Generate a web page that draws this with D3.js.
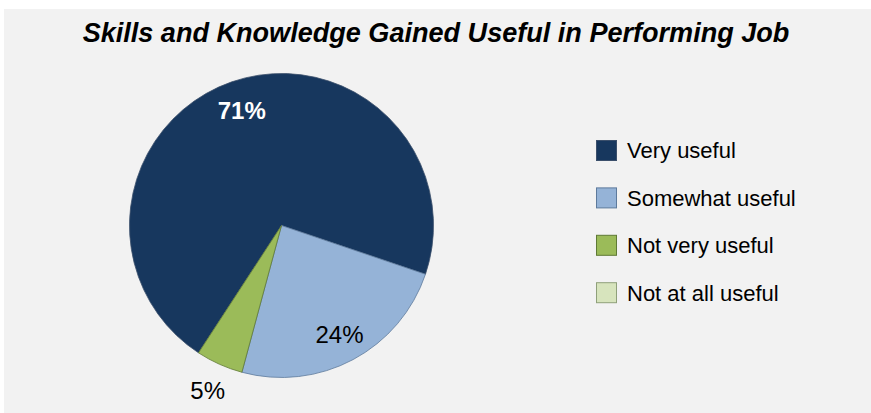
<!DOCTYPE html>
<html>
<head>
<meta charset="utf-8">
<script src="https://cdn.jsdelivr.net/npm/d3@7"></script>
<style>
  body { margin: 0; background: #ffffff; }
  svg { display: block; }
</style>
</head>
<body>
<svg id="chart" width="871" height="413"></svg>
<script>
// Dados do gráfico
const categories = ["Very useful", "Somewhat useful", "Not very useful", "Not at all useful"];
const values = [71, 24, 5, 0];
const valueLabels = ["71%", "24%", "5%", ""];
const colors = ["#17375e", "#95b3d7", "#9bbb59", "#d7e4bd"];
const strokes = ["#3b4f6b", "#5d7a9c", "#5f7a35", "#8fa07a"];
const titleText = "Skills and Knowledge Gained Useful in Performing Job";

const svg = d3.select("#chart");
const width = +svg.attr("width");
const height = +svg.attr("height");
const font = "'Liberation Sans', Arial, sans-serif";

// Fundo cinza
svg.append("rect")
  .attr("x", 4).attr("y", 9)
  .attr("width", width - 4).attr("height", height - 9)
  .attr("fill", "#f2f2f2");

// Título
const title = svg.append("text")
  .attr("x", 436)
  .attr("y", 42)
  .attr("text-anchor", "middle")
  .attr("font-family", font)
  .attr("font-weight", "bold")
  .attr("font-style", "italic")
  .attr("font-size", "26px")
  .text(titleText);
// ajusta o tamanho para a largura do original
const tw = title.node().getComputedTextLength();
title.attr("font-size", (26 * 707 / tw).toFixed(2) + "px");

// Pizza
const cx = 281.5, cy = 225.5, radius = 152;
const startDeg = 213.1;
const pie = d3.pie().sort(null)
  .startAngle(startDeg * Math.PI / 180)
  .endAngle((startDeg + 360) * Math.PI / 180);
const arcs = pie(values);

const arc = d3.arc().innerRadius(0).outerRadius(radius);
const g = svg.append("g").attr("transform", `translate(${cx},${cy})`);

g.selectAll("path.slice")
  .data(arcs.filter(d => d.value > 0))
  .join("path")
  .attr("class", "slice")
  .attr("d", arc)
  .attr("fill", d => colors[d.index])
  .attr("stroke", d => strokes[d.index])
  .attr("stroke-width", 0.8);

// Rótulos dos valores
const labelRadius = [0.8, 0.81, 1.19, 1.0];
const labelStyle = [
  { fill: "#ffffff", weight: "bold" },
  { fill: "#000000", weight: "normal" },
  { fill: "#000000", weight: "normal" },
  { fill: "#000000", weight: "normal" }
];
g.selectAll("text.lbl")
  .data(arcs.filter(d => d.value > 0))
  .join("text")
  .attr("class", "lbl")
  .attr("transform", d => {
    const r = radius * labelRadius[d.index];
    const a = (d.startAngle + d.endAngle) / 2;
    return `translate(${r * Math.sin(a)},${-r * Math.cos(a)})`;
  })
  .attr("text-anchor", "middle")
  .attr("dy", "0.36em")
  .attr("font-family", font)
  .attr("font-size", "24px")
  .attr("font-weight", d => labelStyle[d.index].weight)
  .attr("fill", d => labelStyle[d.index].fill)
  .text(d => valueLabels[d.index]);

// Legenda
const legend = svg.append("g").attr("transform", "translate(596,140)");
const rowH = 47.4;
const items = legend.selectAll("g.item")
  .data(categories)
  .join("g")
  .attr("class", "item")
  .attr("transform", (d, i) => `translate(0,${i * rowH})`);

items.append("rect")
  .attr("x", 0.5).attr("y", 0.5)
  .attr("width", 20).attr("height", 20)
  .attr("fill", (d, i) => colors[i])
  .attr("stroke", (d, i) => strokes[i])
  .attr("stroke-width", 1);

items.append("text")
  .attr("x", 31)
  .attr("y", 10.5)
  .attr("dy", "0.36em")
  .attr("font-family", font)
  .attr("font-size", "22px")
  .attr("fill", "#000000")
  .text(d => d);
</script>
</body>
</html>
